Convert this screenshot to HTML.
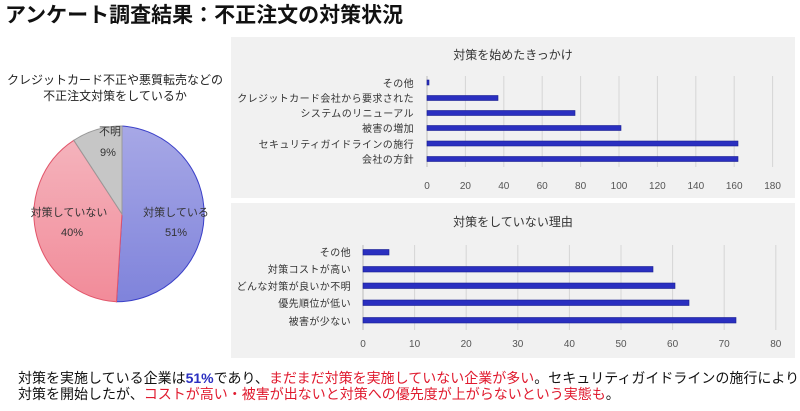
<!DOCTYPE html>
<html><head><meta charset="utf-8"><style>
body{margin:0;width:800px;height:406px;background:#fff;overflow:hidden;font-family:"Liberation Sans","Noto Sans CJK JP",sans-serif;}
svg text{font-family:"Liberation Sans","Noto Sans CJK JP",sans-serif;}
</style></head><body>
<svg width="800" height="406" viewBox="0 0 800 406" xmlns="http://www.w3.org/2000/svg">
<defs>
<linearGradient id="gb" x1="0" y1="0" x2="0" y2="1"><stop offset="0" stop-color="#a7a8e6"/><stop offset="1" stop-color="#7f83db"/></linearGradient>
<linearGradient id="gp" x1="0" y1="0" x2="0" y2="1"><stop offset="0" stop-color="#f4b3bc"/><stop offset="1" stop-color="#f28b99"/></linearGradient>
</defs>
<text x="5" y="22" font-size="21" font-weight="bold" fill="#111">アンケート調査結果：不正注文の対策状況</text>
<text x="115" y="84" font-size="12" text-anchor="middle" fill="#222">クレジットカード不正や悪質転売などの</text>
<text x="115" y="100" font-size="12" text-anchor="middle" fill="#222">不正注文対策をしているか</text>
<path d="M122,214 L122,126 A88,88 0 0 1 116.5,301.8 Z" fill="url(#gb)" stroke="#3a3fc8" stroke-width="1"/>
<path d="M122,214 L116.5,301.8 A88,88 0 0 1 73.8,140.3 Z" fill="url(#gp)" stroke="#e2556a" stroke-width="1"/>
<path d="M122,214 L73.8,140.3 A88,88 0 0 1 122,126 Z" fill="#c6c6c6" stroke="#999" stroke-width="1"/>
<g font-size="11" fill="#333" text-anchor="middle">
<text x="110" y="135">不明</text><text x="108" y="156">9%</text>
<text x="69" y="216">対策していない</text><text x="72" y="236">40%</text>
<text x="176" y="216">対策している</text><text x="176" y="236">51%</text>
</g>
<rect x="231" y="37" width="564" height="161" fill="#f1f1f1"/>
<text x="513" y="59" font-size="12" text-anchor="middle" fill="#333">対策を始めたきっかけ</text>
<g stroke="#d6d6d6" stroke-width="1">
<line x1="465.4" y1="76" x2="465.4" y2="167"/><line x1="503.8" y1="76" x2="503.8" y2="167"/><line x1="542.2" y1="76" x2="542.2" y2="167"/><line x1="580.6" y1="76" x2="580.6" y2="167"/><line x1="619" y1="76" x2="619" y2="167"/><line x1="657.4" y1="76" x2="657.4" y2="167"/><line x1="695.8" y1="76" x2="695.8" y2="167"/><line x1="734.2" y1="76" x2="734.2" y2="167"/><line x1="772.6" y1="76" x2="772.6" y2="167"/>
</g>
<line x1="427" y1="76" x2="427" y2="167" stroke="#bbb"/>
<g fill="#2a2fc0" stroke="#1a1f90" stroke-width="0.6">
<rect x="427" y="80" width="2" height="5"/>
<rect x="427" y="95.5" width="71" height="5"/>
<rect x="427" y="110.5" width="148" height="5"/>
<rect x="427" y="125.5" width="194" height="5"/>
<rect x="427" y="141" width="311" height="5"/>
<rect x="427" y="156.5" width="311" height="5"/>
</g>
<g font-size="10" fill="#333" text-anchor="end" letter-spacing="0.4">
<text x="414" y="87">その他</text><text x="414" y="102">クレジットカード会社から要求された</text><text x="414" y="117">システムのリニューアル</text><text x="414" y="132">被害の増加</text><text x="414" y="148">セキュリティガイドラインの施行</text><text x="414" y="163">会社の方針</text>
</g>
<g font-size="10" fill="#555" text-anchor="middle">
<text x="427" y="189">0</text><text x="465.4" y="189">20</text><text x="503.8" y="189">40</text><text x="542.2" y="189">60</text><text x="580.6" y="189">80</text><text x="619" y="189">100</text><text x="657.4" y="189">120</text><text x="695.8" y="189">140</text><text x="734.2" y="189">160</text><text x="772.6" y="189">180</text>
</g>
<rect x="231" y="203" width="564" height="155" fill="#f1f1f1"/>
<text x="513" y="226" font-size="12" text-anchor="middle" fill="#333">対策をしていない理由</text>
<g stroke="#d6d6d6" stroke-width="1">
<line x1="414.6" y1="245" x2="414.6" y2="330"/><line x1="466.2" y1="245" x2="466.2" y2="330"/><line x1="517.8" y1="245" x2="517.8" y2="330"/><line x1="569.4" y1="245" x2="569.4" y2="330"/><line x1="621" y1="245" x2="621" y2="330"/><line x1="672.6" y1="245" x2="672.6" y2="330"/><line x1="724.2" y1="245" x2="724.2" y2="330"/><line x1="775.8" y1="245" x2="775.8" y2="330"/>
</g>
<line x1="363" y1="245" x2="363" y2="330" stroke="#bbb"/>
<g fill="#2a2fc0" stroke="#1a1f90" stroke-width="0.6">
<rect x="363" y="249.5" width="26" height="5.5"/>
<rect x="363" y="266.5" width="290" height="5.5"/>
<rect x="363" y="283" width="312" height="5.5"/>
<rect x="363" y="300" width="326" height="5.5"/>
<rect x="363" y="317.5" width="373" height="5.5"/>
</g>
<g font-size="10" fill="#333" text-anchor="end" letter-spacing="0.4">
<text x="351" y="256">その他</text><text x="351" y="273">対策コストが高い</text><text x="351" y="290">どんな対策が良いか不明</text><text x="351" y="307">優先順位が低い</text><text x="351" y="325">被害が少ない</text>
</g>
<g font-size="10" fill="#555" text-anchor="middle">
<text x="363" y="347">0</text><text x="414.6" y="347">10</text><text x="466.2" y="347">20</text><text x="517.8" y="347">30</text><text x="569.4" y="347">40</text><text x="621" y="347">50</text><text x="672.6" y="347">60</text><text x="724.2" y="347">70</text><text x="775.8" y="347">80</text>
</g>
<text x="18" y="383" font-size="14" fill="#111">対策を実施している企業は<tspan fill="#2a2fc0" font-weight="bold">51%</tspan>であり、<tspan fill="#e01a2e">まだまだ対策を実施していない企業が多い</tspan>。セキュリティガイドラインの施行により</text>
<text x="18" y="399" font-size="14" fill="#111">対策を開始したが、<tspan fill="#e01a2e">コストが高い・被害が出ないと対策への優先度が上がらないという実態も</tspan>。</text>
</svg>
</body></html>
